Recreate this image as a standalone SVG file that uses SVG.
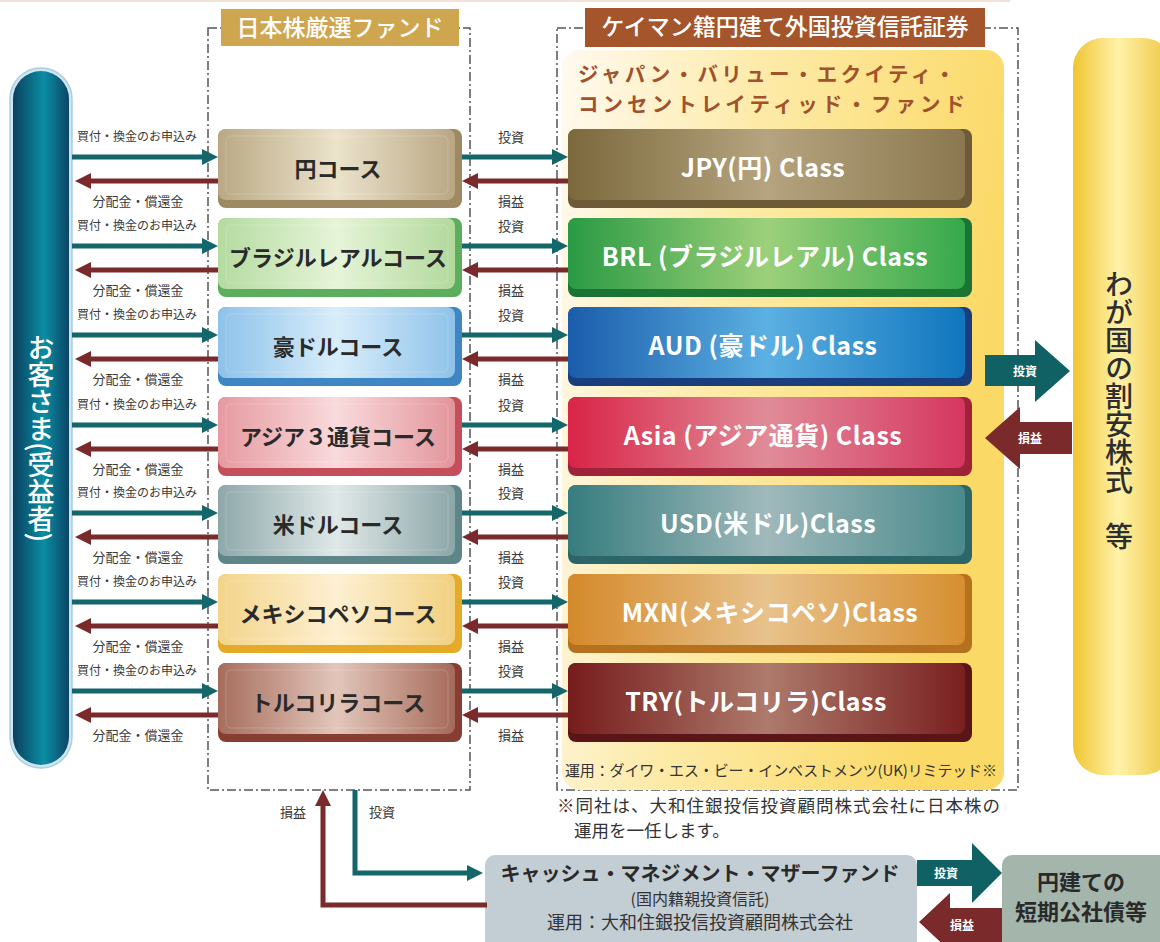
<svg xmlns="http://www.w3.org/2000/svg" width="1160" height="942" viewBox="0 0 1160 942">
<style>
text{font-family:"Noto Sans CJK JP","Noto Sans",sans-serif}
.course{font-size:22px;font-weight:700;fill:#2a2a2a;text-anchor:middle}
.cls{font-size:25px;font-weight:700;fill:#ffffff;text-anchor:middle;letter-spacing:0.5px}
.lbl{font-size:12px;fill:#3a3a3a;text-anchor:middle}
.lbl2{font-size:13px;fill:#3a3a3a;text-anchor:middle}
.teal{stroke:#13676a;stroke-width:5;fill:none}
.maroon{stroke:#7a2a2b;stroke-width:5;fill:none}
.dash{fill:none;stroke:#555;stroke-width:1.5;stroke-dasharray:9 3 2 3}
.wlbl{font-size:12px;fill:#fff;text-anchor:middle;font-weight:700}
.hl{fill:none;stroke:#fff;stroke-opacity:0.18}
.ftitle{font-size:20.5px;font-weight:700;fill:#a0522d}
</style>
<defs>
<marker id="ht" viewBox="0 0 10 10" refX="0" refY="5" markerWidth="3.2" markerHeight="3.2" orient="auto" markerUnits="strokeWidth"><path d="M0,0 L10,5 L0,10 z" fill="#13676a"/></marker>
<marker id="hm" viewBox="0 0 10 10" refX="0" refY="5" markerWidth="3.2" markerHeight="3.2" orient="auto" markerUnits="strokeWidth"><path d="M0,0 L10,5 L0,10 z" fill="#7a2a2b"/></marker>
<linearGradient id="pill" x1="0" y1="0" x2="1" y2="0"><stop offset="0" stop-color="#0c3f5e"/><stop offset="0.55" stop-color="#0a8da3"/><stop offset="1" stop-color="#0c4566"/></linearGradient>
<linearGradient id="gold" x1="0" y1="0" x2="1" y2="0"><stop offset="0" stop-color="#efc532"/><stop offset="0.45" stop-color="#fff2a8"/><stop offset="1" stop-color="#eec53a"/></linearGradient>
<linearGradient id="yel" x1="0" y1="0" x2="1" y2="0.25"><stop offset="0" stop-color="#fffaf0"/><stop offset="0.45" stop-color="#fdeaa6"/><stop offset="1" stop-color="#fbd966"/></linearGradient>
<linearGradient id="c1" x1="0" y1="0" x2="1" y2="0"><stop offset="0" stop-color="#b9a883"/><stop offset="0.5" stop-color="#ece3cc"/><stop offset="1" stop-color="#b9a783"/></linearGradient>
<linearGradient id="c2" x1="0" y1="0" x2="1" y2="0"><stop offset="0" stop-color="#b4dba0"/><stop offset="0.5" stop-color="#e6f4d8"/><stop offset="1" stop-color="#b2d99c"/></linearGradient>
<linearGradient id="c3" x1="0" y1="0" x2="1" y2="0"><stop offset="0" stop-color="#8ec2ea"/><stop offset="0.5" stop-color="#d8edfa"/><stop offset="1" stop-color="#8fc2ea"/></linearGradient>
<linearGradient id="c4" x1="0" y1="0" x2="1" y2="0"><stop offset="0" stop-color="#e69aa0"/><stop offset="0.5" stop-color="#f9dadc"/><stop offset="1" stop-color="#e2959b"/></linearGradient>
<linearGradient id="c5" x1="0" y1="0" x2="1" y2="0"><stop offset="0" stop-color="#8ea8aa"/><stop offset="0.5" stop-color="#e0e8e8"/><stop offset="1" stop-color="#8ca6a8"/></linearGradient>
<linearGradient id="c6" x1="0" y1="0" x2="1" y2="0"><stop offset="0" stop-color="#f3d48a"/><stop offset="0.5" stop-color="#fdf0d2"/><stop offset="1" stop-color="#f1d080"/></linearGradient>
<linearGradient id="c7" x1="0" y1="0" x2="1" y2="0"><stop offset="0" stop-color="#a66d5c"/><stop offset="0.5" stop-color="#e3c6bb"/><stop offset="1" stop-color="#a56a59"/></linearGradient>
<linearGradient id="k1" x1="0" y1="0" x2="1" y2="0"><stop offset="0" stop-color="#7b683c"/><stop offset="0.5" stop-color="#b5a47f"/><stop offset="1" stop-color="#8b7850"/></linearGradient>
<linearGradient id="k2" x1="0" y1="0" x2="1" y2="0"><stop offset="0" stop-color="#2a9a44"/><stop offset="0.5" stop-color="#9dd07a"/><stop offset="1" stop-color="#36a84c"/></linearGradient>
<linearGradient id="k3" x1="0" y1="0" x2="1" y2="0"><stop offset="0" stop-color="#1a5cab"/><stop offset="0.5" stop-color="#5cb0e2"/><stop offset="1" stop-color="#1076bd"/></linearGradient>
<linearGradient id="k4" x1="0" y1="0" x2="1" y2="0"><stop offset="0" stop-color="#d92447"/><stop offset="0.5" stop-color="#e08c98"/><stop offset="1" stop-color="#d5365f"/></linearGradient>
<linearGradient id="k5" x1="0" y1="0" x2="1" y2="0"><stop offset="0" stop-color="#367c7e"/><stop offset="0.5" stop-color="#a0b9bb"/><stop offset="1" stop-color="#4a8a8c"/></linearGradient>
<linearGradient id="k6" x1="0" y1="0" x2="1" y2="0"><stop offset="0" stop-color="#d4892a"/><stop offset="0.5" stop-color="#e8c28c"/><stop offset="1" stop-color="#d68f30"/></linearGradient>
<linearGradient id="k7" x1="0" y1="0" x2="1" y2="0"><stop offset="0" stop-color="#761c1c"/><stop offset="0.5" stop-color="#ad7a6b"/><stop offset="1" stop-color="#7a2020"/></linearGradient>
</defs>
<rect width="1160" height="942" fill="#ffffff"/>
<rect x="0" y="0" width="1010" height="2" fill="#f2e2d6"/>

<g id="customer">
<rect x="10" y="68" width="62" height="700" rx="31" fill="#cfe5ef" stroke="#a9cfe0" stroke-width="1.5"/>
<rect x="13" y="71" width="56" height="694" rx="28" fill="url(#pill)"/>
<text x="41" y="438" style="writing-mode:vertical-rl" text-anchor="middle" font-size="27" font-weight="500" fill="#ffffff">お客さま(受益者)</text>
</g>

<g id="fund-jp">
<rect class="dash" x="208" y="28" width="262" height="762"/>
<rect x="221" y="9" width="238" height="37" fill="#cfa650"/>
<text x="340" y="36" text-anchor="middle" font-size="23" fill="#ffffff" font-weight="500">日本株厳選ファンド</text>
</g>

<g id="fund-cayman">
<rect class="dash" x="557" y="28" width="461" height="762"/>
<rect x="562" y="50" width="442" height="740" rx="18" fill="url(#yel)"/>
<rect x="585" y="8" width="400" height="39" fill="#a5552b"/>
<text x="785" y="35" text-anchor="middle" font-size="23" fill="#ffffff" font-weight="500">ケイマン籍円建て外国投資信託証券</text>
<text class="ftitle" x="578" y="82" textLength="377">ジャパン・バリュー・エクイティ・</text>
<text class="ftitle" x="578" y="112" textLength="387">コンセントレイティッド・ファンド</text>
<text x="565" y="776" font-size="15" fill="#333" textLength="432">運用：ダイワ・エス・ビー・インベストメンツ(UK)リミテッド※</text>
</g>

<g id="note">
<text x="557" y="812" font-size="17.5" fill="#333" textLength="443">※同社は、大和住銀投信投資顧問株式会社に日本株の</text>
<text x="574" y="837" font-size="17.5" fill="#333">運用を一任します。</text>
</g>

<g id="stocks">
<rect x="1073" y="38" width="100" height="737" rx="30" fill="url(#gold)"/>
<text x="1119" y="410" style="writing-mode:vertical-rl" text-anchor="middle" font-size="28" font-weight="500" fill="#2e2e2e">わが国の割安株式　等</text>
</g>

<g id="course-jpy"><rect x="218" y="129" width="244" height="79" rx="8" fill="#9d8a62"/><rect x="218" y="129" width="237" height="71" rx="8" fill="url(#c1)"/><rect class="hl" x="226" y="136" width="222" height="58" rx="5"/><text class="course" x="338" y="177">円コース</text></g>
<g id="course-brl"><rect x="218" y="218" width="244" height="79" rx="8" fill="#5cae5c"/><rect x="218" y="218" width="237" height="71" rx="8" fill="url(#c2)"/><rect class="hl" x="226" y="225" width="222" height="58" rx="5"/><text class="course" x="338" y="266">ブラジルレアルコース</text></g>
<g id="course-aud"><rect x="218" y="307" width="244" height="79" rx="8" fill="#3e86c4"/><rect x="218" y="307" width="237" height="71" rx="8" fill="url(#c3)"/><rect class="hl" x="226" y="314" width="222" height="58" rx="5"/><text class="course" x="338" y="355">豪ドルコース</text></g>
<g id="course-asia"><rect x="218" y="397" width="244" height="79" rx="8" fill="#c44f5a"/><rect x="218" y="397" width="237" height="71" rx="8" fill="url(#c4)"/><rect class="hl" x="226" y="404" width="222" height="58" rx="5"/><text class="course" x="338" y="445">アジア３通貨コース</text></g>
<g id="course-usd"><rect x="218" y="485" width="244" height="79" rx="8" fill="#5e8587"/><rect x="218" y="485" width="237" height="71" rx="8" fill="url(#c5)"/><rect class="hl" x="226" y="492" width="222" height="58" rx="5"/><text class="course" x="338" y="533">米ドルコース</text></g>
<g id="course-mxn"><rect x="218" y="574" width="244" height="79" rx="8" fill="#e5aa28"/><rect x="218" y="574" width="237" height="71" rx="8" fill="url(#c6)"/><rect class="hl" x="226" y="581" width="222" height="58" rx="5"/><text class="course" x="338" y="622">メキシコペソコース</text></g>
<g id="course-try"><rect x="218" y="663" width="244" height="79" rx="8" fill="#883d33"/><rect x="218" y="663" width="237" height="71" rx="8" fill="url(#c7)"/><rect class="hl" x="226" y="670" width="222" height="58" rx="5"/><text class="course" x="338" y="711">トルコリラコース</text></g>

<g id="class-jpy"><rect x="568" y="129" width="404" height="79" rx="8" fill="#6c5b36"/><rect x="568" y="129" width="397" height="71" rx="8" fill="url(#k1)"/><text class="cls" x="763" y="177">JPY(円) Class</text></g>
<g id="class-brl"><rect x="568" y="218" width="404" height="79" rx="8" fill="#1c7434"/><rect x="568" y="218" width="397" height="71" rx="8" fill="url(#k2)"/><text class="cls" x="765" y="266">BRL (ブラジルレアル) Class</text></g>
<g id="class-aud"><rect x="568" y="307" width="404" height="79" rx="8" fill="#1a3d7e"/><rect x="568" y="307" width="397" height="71" rx="8" fill="url(#k3)"/><text class="cls" x="763" y="355">AUD (豪ドル) Class</text></g>
<g id="class-asia"><rect x="568" y="397" width="404" height="79" rx="8" fill="#9e2238"/><rect x="568" y="397" width="397" height="71" rx="8" fill="url(#k4)"/><text class="cls" x="763" y="445">Asia (アジア通貨) Class</text></g>
<g id="class-usd"><rect x="568" y="485" width="404" height="79" rx="8" fill="#2c6668"/><rect x="568" y="485" width="397" height="71" rx="8" fill="url(#k5)"/><text class="cls" x="768" y="533">USD(米ドル)Class</text></g>
<g id="class-mxn"><rect x="568" y="574" width="404" height="79" rx="8" fill="#b5711e"/><rect x="568" y="574" width="397" height="71" rx="8" fill="url(#k6)"/><text class="cls" x="770" y="622">MXN(メキシコペソ)Class</text></g>
<g id="class-try"><rect x="568" y="663" width="404" height="79" rx="8" fill="#5a1616"/><rect x="568" y="663" width="397" height="71" rx="8" fill="url(#k7)"/><text class="cls" x="756" y="711">TRY(トルコリラ)Class</text></g>

<g id="cash">
<rect x="485" y="855" width="432" height="95" rx="10" fill="#c3cdd4"/>
<text x="700" y="881" text-anchor="middle" font-size="20" font-weight="700" fill="#2a2a2a">キャッシュ・マネジメント・マザーファンド</text>
<text x="700" y="905" text-anchor="middle" font-size="16" fill="#333">(国内籍親投資信託)</text>
<text x="700" y="929" text-anchor="middle" font-size="18" fill="#333">運用：大和住銀投信投資顧問株式会社</text>
</g>

<g id="bonds">
<rect x="1002" y="855" width="170" height="95" rx="10" fill="#a4b6ac"/>
<text x="1081" y="890" text-anchor="middle" font-size="22" font-weight="700" fill="#2a2a2a">円建ての</text>
<text x="1081" y="920" text-anchor="middle" font-size="22" font-weight="700" fill="#2a2a2a">短期公社債等</text>
</g>

<g id="connectors">
<path class="teal" d="M72,157 H202" marker-end="url(#ht)"/><path class="maroon" d="M218,181 H91" marker-end="url(#hm)"/>
<path class="teal" d="M462,157 H552" marker-end="url(#ht)"/><path class="maroon" d="M568,181 H478" marker-end="url(#hm)"/>
<path class="teal" d="M72,246 H202" marker-end="url(#ht)"/><path class="maroon" d="M218,270 H91" marker-end="url(#hm)"/>
<path class="teal" d="M462,246 H552" marker-end="url(#ht)"/><path class="maroon" d="M568,270 H478" marker-end="url(#hm)"/>
<path class="teal" d="M72,335 H202" marker-end="url(#ht)"/><path class="maroon" d="M218,359 H91" marker-end="url(#hm)"/>
<path class="teal" d="M462,335 H552" marker-end="url(#ht)"/><path class="maroon" d="M568,359 H478" marker-end="url(#hm)"/>
<path class="teal" d="M72,425 H202" marker-end="url(#ht)"/><path class="maroon" d="M218,449 H91" marker-end="url(#hm)"/>
<path class="teal" d="M462,425 H552" marker-end="url(#ht)"/><path class="maroon" d="M568,449 H478" marker-end="url(#hm)"/>
<path class="teal" d="M72,513 H202" marker-end="url(#ht)"/><path class="maroon" d="M218,537 H91" marker-end="url(#hm)"/>
<path class="teal" d="M462,513 H552" marker-end="url(#ht)"/><path class="maroon" d="M568,537 H478" marker-end="url(#hm)"/>
<path class="teal" d="M72,602 H202" marker-end="url(#ht)"/><path class="maroon" d="M218,626 H91" marker-end="url(#hm)"/>
<path class="teal" d="M462,602 H552" marker-end="url(#ht)"/><path class="maroon" d="M568,626 H478" marker-end="url(#hm)"/>
<path class="teal" d="M72,691 H202" marker-end="url(#ht)"/><path class="maroon" d="M218,715 H91" marker-end="url(#hm)"/>
<path class="teal" d="M462,691 H552" marker-end="url(#ht)"/><path class="maroon" d="M568,715 H478" marker-end="url(#hm)"/>

<g class="lbl">
<text x="137" y="141">買付・換金のお申込み</text><text x="137" y="230">買付・換金のお申込み</text><text x="137" y="319">買付・換金のお申込み</text><text x="137" y="409">買付・換金のお申込み</text><text x="137" y="497">買付・換金のお申込み</text><text x="137" y="586">買付・換金のお申込み</text><text x="137" y="675">買付・換金のお申込み</text>
</g>
<g class="lbl2">
<text x="138" y="206">分配金・償還金</text><text x="138" y="295">分配金・償還金</text><text x="138" y="384">分配金・償還金</text><text x="138" y="474">分配金・償還金</text><text x="138" y="562">分配金・償還金</text><text x="138" y="651">分配金・償還金</text><text x="138" y="740">分配金・償還金</text>
<text x="511" y="142">投資</text><text x="511" y="231">投資</text><text x="511" y="320">投資</text><text x="511" y="410">投資</text><text x="511" y="498">投資</text><text x="511" y="587">投資</text><text x="511" y="676">投資</text>
<text x="511" y="206">損益</text><text x="511" y="295">損益</text><text x="511" y="384">損益</text><text x="511" y="474">損益</text><text x="511" y="562">損益</text><text x="511" y="651">損益</text><text x="511" y="740">損益</text>
<text x="293" y="817">損益</text><text x="382" y="817">投資</text>
</g>

<path class="maroon" d="M487,905 H323 V806" marker-end="url(#hm)"/>
<path class="teal" d="M355,790 V873 H467" marker-end="url(#ht)"/>

<path d="M985,355 H1035 V340 L1070,371 L1035,402 V386 H985 Z" fill="#0f6163"/>
<text class="wlbl" x="1025" y="376">投資</text>
<path d="M1072,422 H1020 V407 L985,438 L1020,469 V454 H1072 Z" fill="#7a2a2b"/>
<text class="wlbl" x="1030" y="443">損益</text>

<path d="M917,860 H972 V843 L1002,873 L972,903 V886 H917 Z" fill="#0f6163"/>
<text class="wlbl" x="946" y="878">投資</text>
<path d="M1002,908 H950 V893 L919,922 L950,951 V942 H1002 Z" fill="#7a2a2b"/>
<text class="wlbl" x="962" y="930">損益</text>
</g>
</svg>
